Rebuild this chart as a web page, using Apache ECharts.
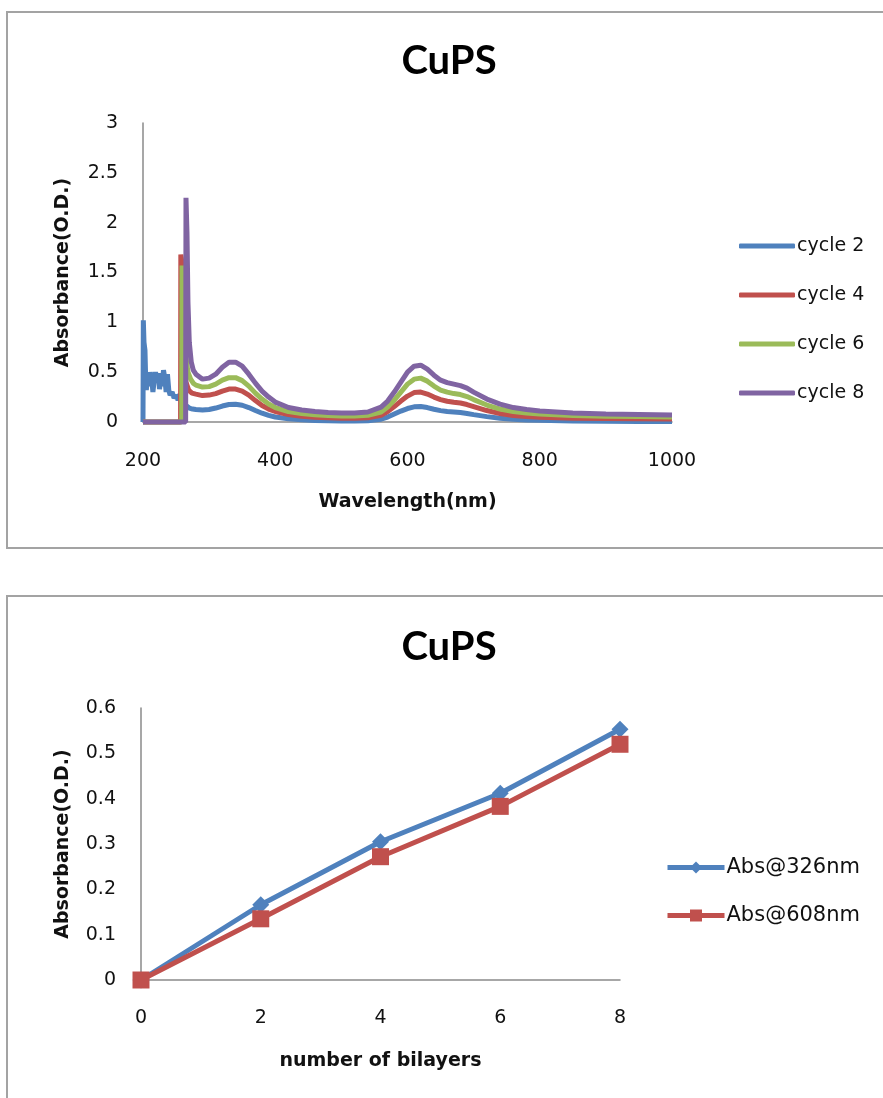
<!DOCTYPE html>
<html>
<head>
<meta charset="utf-8">
<title>CuPS absorbance</title>
<script src="https://cdn.jsdelivr.net/npm/echarts@6/dist/echarts.min.js"></script>
<style>
  html, body { margin: 0; padding: 0; background: #ffffff; }
  #chart { width: 883px; height: 1098px; }
</style>
</head>
<body>
<div id="chart"></div>
<script>
// ---------- UV-Vis spectra (top panel) ----------
const cycleNames = ['cycle 2', 'cycle 4', 'cycle 6', 'cycle 8'];
const cycleColors = ['#4F81BD', '#C0504D', '#9BBB59', '#8064A2'];

// shared wavelength grid for the smooth part of every spectrum (nm)
const tailWavelengths = [280, 290, 300, 310, 320, 330, 340, 350, 360, 370, 380, 390, 400,
  420, 440, 460, 480, 500, 520, 540, 560, 570, 580, 590, 600, 610, 620, 630, 640, 650,
  660, 670, 680, 690, 700, 720, 740, 760, 780, 800, 850, 900, 950, 1000];

// cycle 2: noisy deep-UV region then the smooth spectrum
const headWlCycle2 = [200, 200.5, 201.5, 203, 204, 205, 207, 209, 211, 213, 215, 217, 219, 221,
  223, 225, 227, 229, 231, 233, 235, 237, 239, 241, 244, 247, 250, 253, 256, 259, 262, 266, 270, 275];
const headAbsCycle2 = [0, 1.02, 0.8, 0.72, 0.45, 0.32, 0.46, 0.36, 0.5, 0.44, 0.3, 0.42, 0.5, 0.4,
  0.49, 0.33, 0.45, 0.36, 0.52, 0.44, 0.3, 0.48, 0.32, 0.27, 0.3, 0.24, 0.27, 0.22, 0.28, 0.2, 0.22, 0.16, 0.14, 0.13];
const tailAbsCycle2 = [0.125, 0.12, 0.125, 0.14, 0.16, 0.175, 0.178, 0.168, 0.145, 0.115, 0.088, 0.066, 0.05,
  0.032, 0.022, 0.016, 0.012, 0.01, 0.01, 0.013, 0.028, 0.05, 0.08, 0.11, 0.135, 0.152, 0.155, 0.145, 0.128, 0.114,
  0.105, 0.1, 0.095, 0.086, 0.074, 0.054, 0.038, 0.028, 0.021, 0.017, 0.011, 0.008, 0.006, 0.005];

// cycle 4
const headWlCycle4 = [200, 256.8, 257.2, 258.5, 260, 262, 265, 269, 274];
const headAbsCycle4 = [0, 0, 1.68, 1.62, 1.1, 0.6, 0.4, 0.32, 0.29];
const tailAbsCycle4 = [0.28, 0.265, 0.27, 0.285, 0.31, 0.33, 0.33, 0.31, 0.27, 0.215, 0.165, 0.13, 0.105,
  0.075, 0.058, 0.048, 0.042, 0.038, 0.038, 0.043, 0.068, 0.105, 0.155, 0.21, 0.26, 0.295, 0.3, 0.28, 0.25, 0.225,
  0.208, 0.198, 0.19, 0.175, 0.155, 0.115, 0.085, 0.065, 0.055, 0.048, 0.038, 0.034, 0.032, 0.03];

// cycle 6
const headWlCycle6 = [200, 258.5, 259, 260, 262, 265, 268, 272, 276];
const headAbsCycle6 = [0, 0, 1.57, 1.45, 1.0, 0.65, 0.5, 0.43, 0.39];
const tailAbsCycle6 = [0.37, 0.35, 0.355, 0.38, 0.42, 0.445, 0.445, 0.415, 0.36, 0.29, 0.23, 0.18, 0.145,
  0.105, 0.085, 0.072, 0.065, 0.06, 0.06, 0.068, 0.1, 0.15, 0.22, 0.3, 0.38, 0.43, 0.44, 0.41, 0.36, 0.32,
  0.3, 0.285, 0.275, 0.255, 0.225, 0.17, 0.13, 0.105, 0.09, 0.08, 0.065, 0.058, 0.055, 0.05];

// cycle 8
const headWlCycle8 = [200, 264.5, 265, 266.5, 268, 270, 273, 276];
const headAbsCycle8 = [0, 0, 2.25, 1.9, 1.2, 0.8, 0.6, 0.52];
const tailAbsCycle8 = [0.48, 0.43, 0.44, 0.48, 0.55, 0.6, 0.6, 0.56, 0.48, 0.39, 0.31, 0.25, 0.2,
  0.145, 0.12, 0.105, 0.095, 0.09, 0.09, 0.1, 0.15, 0.21, 0.3, 0.4, 0.5, 0.56, 0.57, 0.53, 0.47, 0.42,
  0.395, 0.38, 0.365, 0.34, 0.3, 0.23, 0.18, 0.145, 0.125, 0.11, 0.09, 0.08, 0.075, 0.07];

// ---------- growth with number of bilayers (bottom panel) ----------
const bilayers = [0, 2, 4, 6, 8];
const abs326 = [0, 0.166, 0.305, 0.412, 0.553];
const abs608 = [0, 0.135, 0.272, 0.383, 0.52];
const growthNames = ['Abs@326nm', 'Abs@608nm'];
const growthColors = ['#4F81BD', '#C0504D'];

// ---------- helpers ----------
function spectrum(headWl, headAbs, tailAbs) {
  const pts = headWl.map((w, i) => [w, headAbs[i]]);
  tailWavelengths.forEach((w, i) => pts.push([w, tailAbs[i]]));
  return pts;
}
const spectra = [
  spectrum(headWlCycle2, headAbsCycle2, tailAbsCycle2),
  spectrum(headWlCycle4, headAbsCycle4, tailAbsCycle4),
  spectrum(headWlCycle6, headAbsCycle6, tailAbsCycle6),
  spectrum(headWlCycle8, headAbsCycle8, tailAbsCycle8)
];

const FONT = 'DejaVu Sans';
const TEXT = '#111111';
const axisLine = () => ({ show: true, onZero: false, lineStyle: { color: '#8a8a8a', width: 1.5 } });
const tickLabel = (margin) => ({
  margin: margin, fontSize: 19, fontFamily: FONT, color: TEXT,
  formatter: (v) => String(v)
});
const nameStyle = { fontSize: 19, fontWeight: 'bold', fontFamily: FONT, color: TEXT };
const titleStyle = { fontFamily: 'Lato', fontWeight: 'bold', fontSize: 40, color: '#000' };

const chart = echarts.init(document.getElementById('chart'), null, { renderer: 'canvas' });

const option = {
  animation: false,
  backgroundColor: '#ffffff',
  graphic: [
    { type: 'rect', shape: { x: 7, y: 12, width: 900, height: 536 },
      style: { fill: 'none', stroke: '#a3a3a3', lineWidth: 2 } },
    { type: 'rect', shape: { x: 7, y: 596, width: 900, height: 600 },
      style: { fill: 'none', stroke: '#a3a3a3', lineWidth: 2 } }
  ],
  title: [
    { text: 'CuPS', left: 449, top: 41, textAlign: 'center', padding: 0, textStyle: titleStyle },
    { text: 'CuPS', left: 449, top: 627, textAlign: 'center', padding: 0, textStyle: titleStyle }
  ],
  legend: [
    {
      orient: 'vertical', left: 739, top: 236, padding: 0,
      icon: 'roundRect',
      itemWidth: 56, itemHeight: 5, itemGap: 29,
      data: cycleNames,
      textStyle: { fontSize: 19, fontFamily: FONT, color: TEXT, lineHeight: 20, padding: [0, 0, 0, -3] }
    },
    {
      orient: 'vertical', left: 665, top: 857, padding: 0,
      itemWidth: 57, itemHeight: 15, itemGap: 27,
      lineStyle: { width: 5 },
      data: growthNames,
      textStyle: { fontSize: 21, fontFamily: FONT, color: TEXT, padding: [0, 0, 0, -3] }
    }
  ],
  grid: [
    { left: 143, top: 123, width: 529, height: 299 },
    { left: 141, top: 708, width: 479, height: 272 }
  ],
  xAxis: [
    {
      gridIndex: 0, type: 'value', min: 200, max: 1000, interval: 200,
      axisLine: axisLine(), axisTick: { show: false }, splitLine: { show: false },
      axisLabel: tickLabel(30),
      name: 'Wavelength(nm)', nameLocation: 'middle', nameGap: 71, nameTextStyle: nameStyle
    },
    {
      gridIndex: 1, type: 'value', min: 0, max: 8, interval: 2,
      axisLine: axisLine(), axisTick: { show: false }, splitLine: { show: false },
      axisLabel: tickLabel(29),
      name: 'number of bilayers', nameLocation: 'middle', nameGap: 72, nameTextStyle: nameStyle
    }
  ],
  yAxis: [
    {
      gridIndex: 0, type: 'value', min: 0, max: 3, interval: 0.5,
      axisLine: axisLine(), axisTick: { show: false }, splitLine: { show: false },
      axisLabel: tickLabel(25),
      name: 'Absorbance(O.D.)', nameLocation: 'middle', nameGap: 70, nameTextStyle: nameStyle
    },
    {
      gridIndex: 1, type: 'value', min: 0, max: 0.6, interval: 0.1,
      axisLine: axisLine(), axisTick: { show: false }, splitLine: { show: false },
      axisLabel: tickLabel(25),
      name: 'Absorbance(O.D.)', nameLocation: 'middle', nameGap: 68, nameTextStyle: nameStyle
    }
  ],
  series: [
    ...cycleNames.map((name, i) => ({
      name: name, type: 'line', xAxisIndex: 0, yAxisIndex: 0,
      data: spectra[i], symbol: 'none', clip: false,
      lineStyle: { color: cycleColors[i], width: 5 },
      itemStyle: { color: cycleColors[i] }
    })),
    {
      name: growthNames[0], type: 'line', xAxisIndex: 1, yAxisIndex: 1,
      data: bilayers.map((b, i) => [b, abs326[i]]),
      symbol: 'diamond', symbolSize: 17, clip: false,
      lineStyle: { color: growthColors[0], width: 5 },
      itemStyle: { color: growthColors[0] }
    },
    {
      name: growthNames[1], type: 'line', xAxisIndex: 1, yAxisIndex: 1,
      data: bilayers.map((b, i) => [b, abs608[i]]),
      symbol: 'rect', symbolSize: 17, clip: false,
      lineStyle: { color: growthColors[1], width: 5 },
      itemStyle: { color: growthColors[1] }
    }
  ]
};

chart.setOption(option);
</script>
</body>
</html>
